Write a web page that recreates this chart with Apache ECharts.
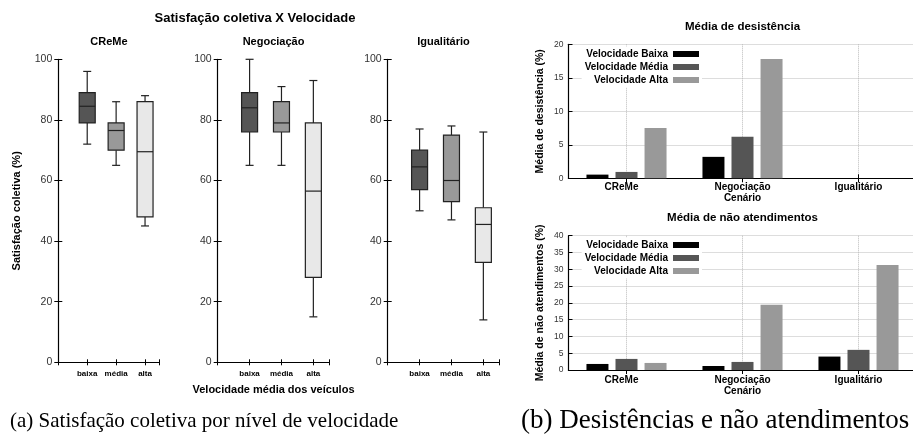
<!DOCTYPE html>
<html>
<head>
<meta charset="utf-8">
<script src="https://cdn.jsdelivr.net/npm/echarts@6/dist/echarts.min.js"></script>
<style>html,body{margin:0;padding:0;background:#fff}#c{width:913px;height:439px}</style>
</head>
<body>
<div id="c"></div>
<script>
// ---- data ----
const speedLevels = ['baixa', 'média', 'alta'];
const scenarios = ['CReMe', 'Negociação', 'Igualitário'];
const satTicks = [0, 20, 40, 60, 80, 100];
// [min, Q1, median, Q3, max] per speed level
const satCReMe = [[72, 79, 84.5, 89, 96], [65, 70, 76.5, 79, 86], [45, 48, 69.5, 86, 88]];
const satNegociacao = [[65, 76, 84, 89, 100], [65, 76, 79, 86, 91], [15, 28, 56.5, 79, 93]];
const satIgualitario = [[50, 57, 64.5, 70, 77], [47, 53, 60, 75, 78], [14, 33, 45.5, 51, 76]];
const legendNames = ['Velocidade Baixa', 'Velocidade Média', 'Velocidade Alta'];
const desistBaixa = [0.55, 3.2, 0];
const desistMedia = [0.95, 6.2, 0];
const desistAlta = [7.5, 17.8, 0];
const naoAtBaixa = [1.8, 1.2, 4.0];
const naoAtMedia = [3.3, 2.4, 6.0];
const naoAtAlta = [2.1, 19.4, 31.3];
const desistTicks = [0, 5, 10, 15, 20];
const naoAtTicks = [0, 5, 10, 15, 20, 25, 30, 35, 40];

// ---- styles ----
const SANS = 'Liberation Sans';
const SERIF = 'Liberation Serif';
const boxFill = ['#555555', '#999999', '#e8e8e8'];
const barColors = ['#000000', '#555555', '#999999'];

const boxGrids = [
  {left: 58.3, top: 59.3, width: 101.2, height: 303},
  {left: 217.7, top: 59.3, width: 111.6, height: 303},
  {left: 387.7, top: 59.3, width: 111.6, height: 303}
];
const barGrids = [
  {left: 568.5, top: 44.3, width: 348, height: 134},
  {left: 568.5, top: 235.7, width: 348, height: 134.3}
];
const grid = boxGrids.concat(barGrids).map(g => Object.assign({containLabel: false, outerBoundsMode: 'none', show: false}, g));

const xAxis = [], yAxis = [], series = [];
const panelData = [satCReMe, satNegociacao, satIgualitario];

function boxRender(params, api) {
  const x = api.value(0);
  const p = k => api.coord([x, api.value(k)]);
  const lo = p(1), q1 = p(2), md = p(3), q3 = p(4), hi = p(5);
  const cx = lo[0];
  const hw = 8, cw = 4;
  const stroke = '#222';
  const ls = {stroke: stroke, lineWidth: 1.2};
  return {type: 'group', children: [
    {type: 'line', shape: {x1: cx, y1: lo[1], x2: cx, y2: q1[1]}, style: ls},
    {type: 'line', shape: {x1: cx, y1: q3[1], x2: cx, y2: hi[1]}, style: ls},
    {type: 'line', shape: {x1: cx - cw, y1: lo[1], x2: cx + cw, y2: lo[1]}, style: ls},
    {type: 'line', shape: {x1: cx - cw, y1: hi[1], x2: cx + cw, y2: hi[1]}, style: ls},
    {type: 'rect', shape: {x: cx - hw, y: q3[1], width: 2 * hw, height: q1[1] - q3[1]},
      style: {fill: boxFill[params.dataIndex], stroke: stroke, lineWidth: 1.2}},
    {type: 'line', shape: {x1: cx - hw, y1: md[1], x2: cx + hw, y2: md[1]}, style: ls}
  ]};
}

const tick = len => ({show: true, inside: true, length: len, lineStyle: {color: '#000'}});

panelData.forEach((pd, i) => {
  xAxis.push({
    gridIndex: i, type: 'value', min: 0, max: 3.5, interval: 1, position: 'bottom',
    axisLine: {show: true, onZero: false, lineStyle: {color: '#000', width: 1.2}},
    axisTick: tick(3),
    axisLabel: {show: true, margin: 7, fontSize: 8, fontWeight: 'bold', color: '#000', fontFamily: SANS,
      formatter: v => speedLevels[v - 1] || ''},
    splitLine: {show: false},
    name: i === 1 ? 'Velocidade média dos veículos' : '',
    nameLocation: 'middle', nameGap: 22,
    nameTextStyle: {fontSize: 11, fontWeight: 'bold', color: '#000', fontFamily: SANS}
  });
  xAxis.push({
    gridIndex: i, type: 'value', min: 0, max: 3.5, interval: 1, position: 'top',
    axisLine: {show: false},
    axisTick: tick(3),
    axisLabel: {show: false}, splitLine: {show: false}
  });
  yAxis.push({
    gridIndex: i, type: 'value', min: satTicks[0], max: satTicks[satTicks.length - 1], interval: 20, position: 'left',
    axisLine: {show: true, onZero: false, lineStyle: {color: '#000', width: 1.2}},
    axisTick: tick(4),
    axisLabel: {show: true, margin: 6, fontSize: 10.5, color: '#333', fontFamily: SANS},
    splitLine: {show: false},
    name: i === 0 ? 'Satisfação coletiva (%)' : '',
    nameLocation: 'middle', nameGap: 36, nameRotate: 90,
    nameTextStyle: {fontSize: 11, fontWeight: 'bold', color: '#000', fontFamily: SANS}
  });
  yAxis.push({
    gridIndex: i, type: 'value', min: 0, max: 100, interval: 20, position: 'right',
    axisLine: {show: false},
    axisTick: tick(4),
    axisLabel: {show: false}, splitLine: {show: false}
  });
  series.push({
    type: 'custom', xAxisIndex: 2 * i, yAxisIndex: 2 * i,
    renderItem: boxRender,
    encode: {x: 0, y: [1, 2, 3, 4, 5]},
    data: pd.map((d, k) => [k + 1].concat(d)),
    silent: true
  });
});

const catLabelStyle = {fontSize: 10, fontWeight: 'bold', color: '#000', fontFamily: SANS};
const barSets = [
  {vals: [desistBaixa, desistMedia, desistAlta], ticks: desistTicks, yname: 'Média de desistência (%)', lm: 4, ng: 15},
  {vals: [naoAtBaixa, naoAtMedia, naoAtAlta], ticks: naoAtTicks, yname: 'Média de não atendimentos (%)', lm: 5, ng: 16}
];
barSets.forEach((bs, j) => {
  const gi = 3 + j;
  const xi = xAxis.length;
  xAxis.push({
    gridIndex: gi, type: 'category', data: scenarios, boundaryGap: true, position: 'bottom',
    axisLine: {show: true, onZero: false, lineStyle: {color: '#000', width: 1.2}},
    axisTick: Object.assign(tick(4), {alignWithLabel: true}),
    axisLabel: Object.assign({show: true, margin: bs.lm,
      formatter: v => v === scenarios[0] ? '{s|' + v + '}' : v,
      rich: {s: Object.assign({padding: [0, 10, 0, 0]}, catLabelStyle)}}, catLabelStyle),
    splitLine: {show: true, alignWithLabel: true, lineStyle: {color: '#bbbbbb', type: 'dotted', width: 1}},
    name: 'Cenário', nameLocation: 'middle', nameGap: bs.ng,
    nameTextStyle: {fontSize: 10, fontWeight: 'bold', color: '#000', fontFamily: SANS}
  });
  xAxis.push({
    gridIndex: gi, type: 'category', data: scenarios, boundaryGap: true, position: 'top',
    axisLine: {show: true, lineStyle: {color: '#000', width: 1.2}},
    axisTick: Object.assign(tick(4), {alignWithLabel: true}),
    axisLabel: {show: false}, splitLine: {show: false}
  });
  const yi = yAxis.length;
  yAxis.push({
    gridIndex: gi, type: 'value', min: bs.ticks[0], max: bs.ticks[bs.ticks.length - 1], interval: 5, position: 'left',
    axisLine: {show: true, onZero: false, lineStyle: {color: '#000', width: 1.2}},
    axisTick: tick(4),
    axisLabel: {show: true, margin: 5, fontSize: 8.5, color: '#333', fontFamily: SANS},
    splitLine: {show: true, lineStyle: {color: '#bbbbbb', type: 'dotted', width: 1}},
    name: bs.yname, nameLocation: 'middle', nameGap: 23, nameRotate: 90,
    nameTextStyle: {fontSize: 10.5, fontWeight: 'bold', color: '#000', fontFamily: SANS}
  });
  bs.vals.forEach((v, k) => {
    series.push({
      type: 'bar', name: legendNames[k], xAxisIndex: xi, yAxisIndex: yi,
      data: v, barWidth: 22, barGap: '32%',
      itemStyle: {color: barColors[k]}, silent: true, z: 3
    });
  });
});

const legendBase = {
  data: legendNames, orient: 'vertical', align: 'right', right: 211,
  itemWidth: 26, itemHeight: 6, itemGap: 2, icon: 'rect',
  padding: [2, 3, 2, 3], backgroundColor: '#fff', selectedMode: false, z: 10,
  textStyle: {fontSize: 10, fontWeight: 'bold', color: '#000', fontFamily: SANS, lineHeight: 11}
};
const legend = [
  Object.assign({}, legendBase, {top: 46.5}),
  Object.assign({}, legendBase, {top: 237.5})
];

function t(text, x, y, size, opts) {
  return Object.assign({
    text: text, left: x, top: y, textAlign: 'center', padding: 0,
    textStyle: {fontSize: size, fontWeight: 'bold', color: '#000', fontFamily: SANS}
  }, opts || {});
}
const title = [
  t('Satisfação coletiva X Velocidade', 255, 11.5, 13),
  t(scenarios[0], 109, 36, 11),
  t(scenarios[1], 273.5, 36, 11),
  t(scenarios[2], 443.5, 36, 11),
  t('Média de desistência', 742.5, 21.3, 11.5),
  t('Média de não atendimentos', 742.5, 212.3, 11.5),
  {text: '(a) Satisfação coletiva por nível de velocidade', left: 10, top: 410.5, padding: 0,
    textStyle: {fontSize: 21, fontWeight: 'normal', color: '#000', fontFamily: SERIF}},
  {text: '(b) Desistências e não atendimentos', left: 521, top: 407.5, padding: 0,
    textStyle: {fontSize: 27, fontWeight: 'normal', color: '#000', fontFamily: SERIF}}
];

const chart = echarts.init(document.getElementById('c'), null, {renderer: 'canvas'});
chart.setOption({
  animation: false,
  backgroundColor: '#fff',
  title: title,
  legend: legend,
  grid: grid,
  xAxis: xAxis,
  yAxis: yAxis,
  series: series,
  tooltip: {show: false}
});
</script>
</body>
</html>
